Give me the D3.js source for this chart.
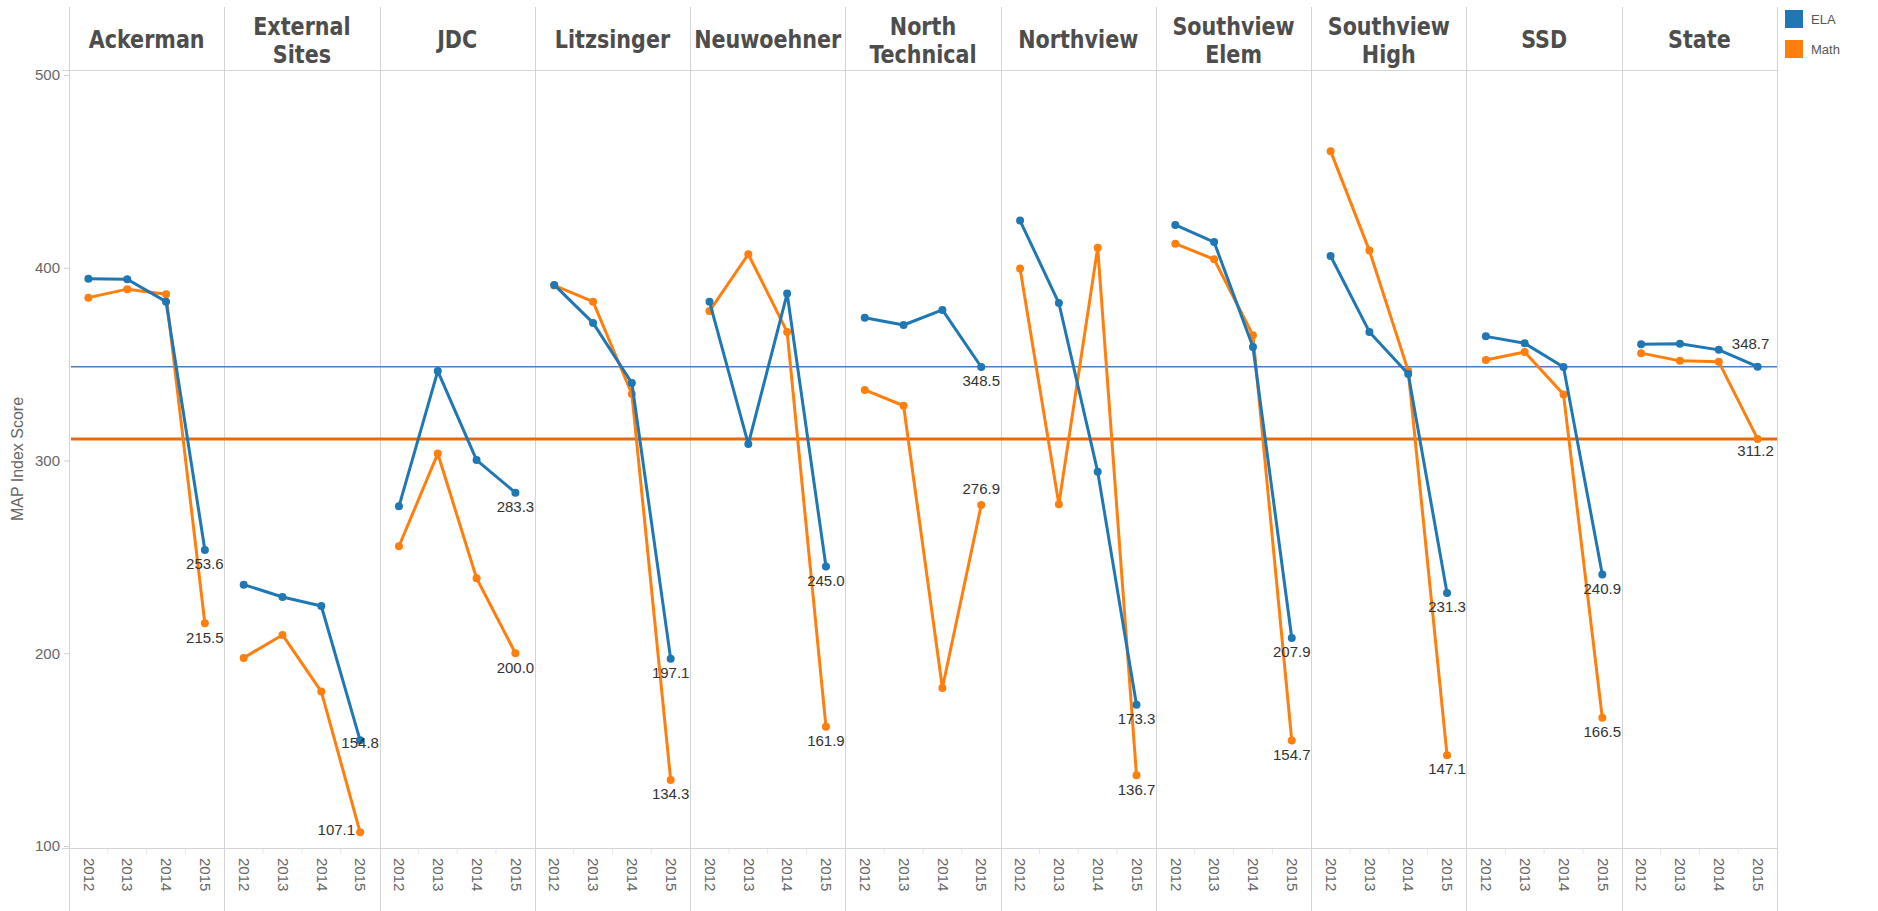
<!DOCTYPE html>
<html>
<head>
<meta charset="utf-8">
<title>MAP Index Score by school</title>
<script src="https://cdn.jsdelivr.net/npm/d3@7"></script>
<style>
	body { margin: 0; background: #fff; }
	svg { display: block; font-family: "Liberation Sans", Arial, sans-serif; }
	.school-header { font-family: "Liberation Sans Narrow", "DejaVu Sans Condensed", sans-serif; font-weight: bold; font-size: 25px; fill: #4d4d4d; }
	.y-axis text, .x-axis text { font-size: 15px; fill: #666; }
	.axis-title { font-size: 16px; fill: #666; }
	.value-label { font-size: 15px; fill: #333; }
	.legend-text { font-size: 13px; fill: #555; }
</style>
</head>
<body>
<svg id="chart" width="1878" height="911"></svg>
<script>
	const schools = ["Ackerman", "External Sites", "JDC", "Litzsinger", "Neuwoehner", "North Technical", "Northview", "Southview Elem", "Southview High", "SSD", "State"];
	const years = ["2012", "2013", "2014", "2015"];
	const seriesNames = ["ELA", "Math"];
	const yTicks = [100, 200, 300, 400, 500];

	// one row per school, one value per year
	const elaScores = [
		[394.3, 394.0, 382.4, 253.6],
		[235.6, 229.2, 224.5, 154.8],
		[276.2, 346.4, 300.2, 283.3],
		[391.1, 371.4, 340.2, 197.1],
		[382.4, 308.5, 386.6, 245.0],
		[374.1, 370.3, 378.1, 348.5],
		[424.5, 381.7, 294.2, 173.3],
		[422.2, 413.3, 358.9, 207.9],
		[406.1, 366.7, 344.9, 231.3],
		[364.4, 360.8, 348.5, 240.9],
		[360.3, 360.6, 357.4, 348.7]
	];
	const mathScores = [
		[384.5, 388.9, 386.2, 215.5],
		[197.6, 209.5, 180.1, 107.1],
		[255.5, 303.6, 238.9, 200.0],
		[390.8, 382.4, 334.5, 134.3],
		[377.5, 407.0, 366.7, 161.9],
		[336.6, 328.4, 182.0, 276.9],
		[399.6, 277.3, 410.4, 136.7],
		[412.5, 404.4, 365.0, 154.7],
		[460.5, 408.9, 346.5, 147.1],
		[352.1, 356.3, 334.3, 166.5],
		[355.7, 351.7, 351.2, 311.2]
	];

	const colors = { ELA: "#1f77b4", Math: "#ff7f0e" };
	const refColors = { ELA: "#4a7ebf", Math: "#e8680c" };
	const refWidths = { ELA: 1.5, Math: 3 };

	// where the 2015 value labels sit relative to their point (default: just below)
	const labelPlacement = {
		"External Sites|ELA": { dx: 0, dy: 2 },
		"External Sites|Math": { dx: -5, dy: -3, anchor: "end" },
		"North Technical|Math": { dx: 0, dy: -16 },
		"State|ELA": { dx: -7, dy: -23 },
		"State|Math": { dx: -2, dy: 12 }
	};

	const width = 1878;
	const height = 911;
	const plotLeft = 69;
	const plotRight = 1777;
	const plotTop = 70;
	const plotBottom = 848;
	const headerSqueeze = 0.92;

	const svg = d3.select("#chart");

	const xPanel = d3.scaleBand().domain(schools).range([plotLeft, plotRight]);
	const xYear = d3.scalePoint().domain(years).range([0, xPanel.bandwidth()]).padding(0.5);
	const y = d3.scaleLinear().domain([100, 500]).range([846, 75]);

	const scores = { ELA: elaScores, Math: mathScores };
	const stateIdx = schools.indexOf("State");

	// frame: panel dividers run through header and year rows
	const frame = svg.append("g").attr("stroke", "#d4d4d4").attr("stroke-width", 1);
	const edges = schools.map((s) => xPanel(s)).concat([plotRight]);
	frame.selectAll("line.divider")
		.data(edges)
		.join("line")
		.attr("class", "divider")
		.attr("x1", (d) => Math.round(d) + 0.5)
		.attr("x2", (d) => Math.round(d) + 0.5)
		.attr("y1", 7)
		.attr("y2", height);
	frame.append("line")
		.attr("x1", 62).attr("x2", plotRight)
		.attr("y1", plotTop + 0.5).attr("y2", plotTop + 0.5);
	frame.append("line")
		.attr("x1", 62).attr("x2", plotRight)
		.attr("y1", plotBottom + 0.5).attr("y2", plotBottom + 0.5);

	// headers, squeezed a little to stand in for a narrow bold face
	const headers = svg.append("g").selectAll("g")
		.data(schools)
		.join("g")
		.attr("transform", (d) => `translate(${xPanel(d) + xPanel.bandwidth() / 2},0) scale(${headerSqueeze},1)`)
		.append("text")
		.attr("class", "school-header")
		.attr("text-anchor", "middle");
	headers.each(function (d) {
		const words = d.split(" ");
		const el = d3.select(this);
		if (words.length === 1) {
			el.append("tspan").attr("x", 0).attr("y", 48).text(d);
		} else {
			el.append("tspan").attr("x", 0).attr("y", 35).text(words[0]);
			el.append("tspan").attr("x", 0).attr("y", 63).text(words.slice(1).join(" "));
		}
	});

	// y axis
	const yAxis = svg.append("g")
		.attr("class", "y-axis")
		.attr("transform", `translate(${plotLeft},0)`)
		.call(d3.axisLeft(y).tickValues(yTicks).tickSize(5).tickPadding(4));
	yAxis.select(".domain").remove();
	yAxis.selectAll(".tick line").attr("stroke", "#cfcfcf");

	svg.append("text")
		.attr("class", "axis-title")
		.attr("transform", `translate(23,${(plotTop + plotBottom) / 2}) rotate(-90)`)
		.attr("text-anchor", "middle")
		.text("MAP Index Score");

	// year axis in every panel
	schools.forEach((school) => {
		const g = svg.append("g")
			.attr("class", "x-axis")
			.attr("transform", `translate(${xPanel(school)},${plotBottom})`)
			.call(d3.axisBottom(xYear).tickSize(0));
		g.select(".domain").remove();
		g.selectAll(".tick text")
			.attr("transform", "rotate(90)")
			.attr("x", 10)
			.attr("y", 0)
			.attr("dy", "0.35em")
			.attr("text-anchor", "start");
		const step = xYear.step();
		g.selectAll("line.minor")
			.data(years.slice(1))
			.join("line")
			.attr("class", "minor")
			.attr("x1", (d) => xYear(d) - step / 2)
			.attr("x2", (d) => xYear(d) - step / 2)
			.attr("y1", 1)
			.attr("y2", 6)
			.attr("stroke", "#e6e6e6");
	});

	// reference lines at the State 2015 values
	svg.append("g").selectAll("line")
		.data(seriesNames.slice().reverse())
		.join("line")
		.attr("x1", plotLeft + 2)
		.attr("x2", plotRight)
		.attr("y1", (s) => y(scores[s][stateIdx][3]))
		.attr("y2", (s) => y(scores[s][stateIdx][3]))
		.attr("stroke", (s) => refColors[s])
		.attr("stroke-width", (s) => refWidths[s]);

	// lines and points, Math underneath ELA
	const line = d3.line().x((d) => d.x).y((d) => d.y);
	["Math", "ELA"].forEach((series) => {
		const g = svg.append("g");
		schools.forEach((school, i) => {
			const pts = years.map((yr, j) => ({
				x: xPanel(school) + xYear(yr),
				y: y(scores[series][i][j]),
				value: scores[series][i][j]
			}));
			g.append("path")
				.attr("d", line(pts))
				.attr("fill", "none")
				.attr("stroke", colors[series])
				.attr("stroke-width", 3)
				.attr("stroke-linejoin", "round");
			g.selectAll(null)
				.data(pts)
				.join("circle")
				.attr("cx", (d) => d.x)
				.attr("cy", (d) => d.y)
				.attr("r", 4)
				.attr("fill", colors[series]);
		});
	});

	// 2015 value labels
	const labels = [];
	seriesNames.forEach((series) => {
		schools.forEach((school, i) => {
			const place = labelPlacement[`${school}|${series}`] || { dx: 0, dy: 14 };
			labels.push({
				x: xPanel(school) + xYear("2015") + place.dx,
				y: y(scores[series][i][3]) + place.dy,
				anchor: place.anchor || "middle",
				text: d3.format(".1f")(scores[series][i][3])
			});
		});
	});
	svg.append("g").selectAll("text")
		.data(labels)
		.join("text")
		.attr("class", "value-label")
		.attr("x", (d) => d.x)
		.attr("y", (d) => d.y)
		.attr("dy", "0.35em")
		.attr("text-anchor", (d) => d.anchor)
		.text((d) => d.text);

	// legend
	const legend = svg.append("g").selectAll("g")
		.data(seriesNames)
		.join("g")
		.attr("transform", (d, i) => `translate(1785,${10 + i * 30})`);
	legend.append("rect")
		.attr("width", 18)
		.attr("height", 18)
		.attr("fill", (d) => colors[d]);
	legend.append("text")
		.attr("class", "legend-text")
		.attr("x", 26)
		.attr("y", 9)
		.attr("dy", "0.35em")
		.text((d) => d);
</script>
</body>
</html>
